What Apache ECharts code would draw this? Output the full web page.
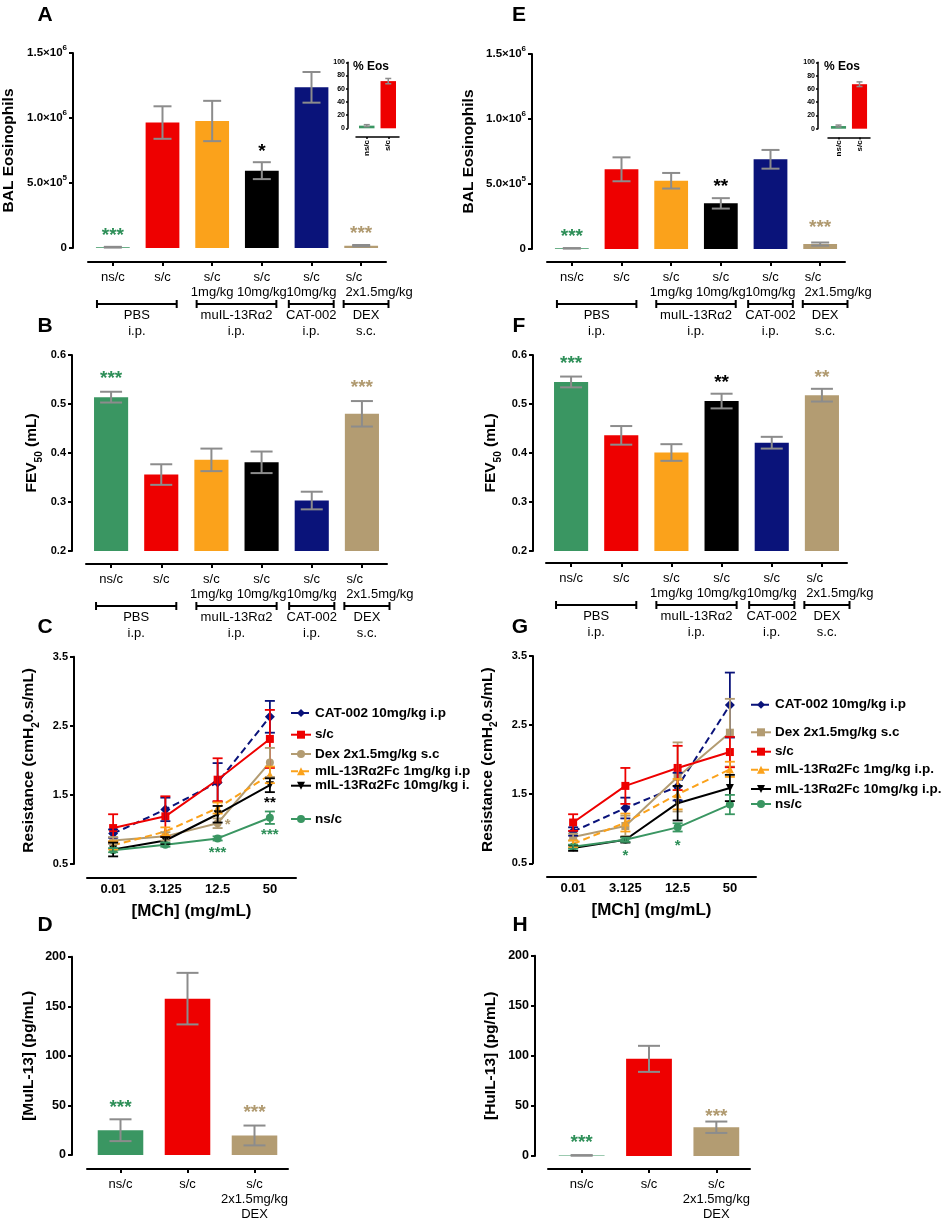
<!DOCTYPE html>
<html lang="en">
<head>
<meta charset="utf-8">
<title>IL-13 panels</title>
<script src="https://cdn.jsdelivr.net/npm/echarts@6/dist/echarts.min.js"></script>
<style>
  html, body { margin: 0; padding: 0; background: #fff; }
  #page { position: relative; width: 941px; height: 1222px; overflow: hidden; }
  .layer { position: absolute; left: 0; top: 0; width: 941px; height: 1222px; }
  #chartC { width: 470px; }
</style>
</head>
<body>
<div id="page">
  <div class="layer" id="chartA"></div>
  <div class="layer" id="chartE"></div>
  <div class="layer" id="chartB"></div>
  <div class="layer" id="chartF"></div>
  <div class="layer" id="chartC"></div>
  <div class="layer" id="chartG"></div>
  <div class="layer" id="chartD"></div>
  <div class="layer" id="chartH"></div>
</div>
<script>
const FONT = '"Liberation Sans", Arial, Helvetica, sans-serif';
const GREEN = '#3a9662', RED = '#ee0000', ORANGE = '#fba21b', BLACK = '#000000', NAVY = '#0a137a', TAN = '#b39c72';
const STAR_GREEN = '#2e8f58', STAR_TAN = '#b09a70';
const ERR_GREY = '#8c8c8c';

// ---- 数据: 分组柱状图 (A, B, E, F) ----
const groupCats = ['ns/c', 's/c', 's/c\n1mg/kg', 's/c\n10mg/kg', 's/c\n10mg/kg', 's/c    \n          2x1.5mg/kg'];
const groupColors = [GREEN, RED, ORANGE, BLACK, NAVY, TAN];
const bracketLabels = ['PBS\ni.p.', 'muIL-13Rα2\ni.p.', 'CAT-002\ni.p.', 'DEX\ns.c.'];
const bracketStart = [-0.3, 1.7, 3.55, 4.65];
const bracketEnd = [1.3, 3.3, 4.45, 5.55];

const eosTicks = [0, 5e5, 1e6, 1.5e6];
const eosTickBase = ['0', '5.0×10', '1.0×10', '1.5×10'];
const eosTickExp = ['', '5', '6', '6'];

const eosA = [0.006e6, 0.965e6, 0.977e6, 0.595e6, 1.236e6, 0.018e6];
const eosASem = [0.003e6, 0.125e6, 0.155e6, 0.065e6, 0.118e6, 0.005e6];
const eosE = [0.005e6, 0.613e6, 0.525e6, 0.351e6, 0.690e6, 0.038e6];
const eosESem = [0.002e6, 0.092e6, 0.060e6, 0.040e6, 0.072e6, 0.012e6];

const insetCats = ['ns/c', 's/c'];
const insetColors = [GREEN, RED];
const insetTicks = [0, 20, 40, 60, 80, 100];
const pctEosA = [4, 71.5];
const pctEosASem = [1.5, 4];
const pctEosE = [4, 67];
const pctEosESem = [1.5, 3.5];

const fevTicks = [0.2, 0.3, 0.4, 0.5, 0.6];
const fevB = [0.514, 0.356, 0.386, 0.381, 0.303, 0.480];
const fevBSem = [0.011, 0.021, 0.023, 0.022, 0.018, 0.026];
const fevF = [0.545, 0.436, 0.401, 0.506, 0.421, 0.518];
const fevFSem = [0.011, 0.019, 0.017, 0.015, 0.012, 0.013];

// ---- 数据: 剂量反应曲线 (C, G) ----
const mchDoses = ['0.01', '3.125', '12.5', '50'];
const resTicks = [0.5, 1.5, 2.5, 3.5];

const cat002C = [0.94, 1.29, 1.68, 2.63];
const cat002CSem = [0.06, 0.17, 0.28, 0.23];
const scC = [1.02, 1.19, 1.72, 2.31];
const scCSem = [0.20, 0.29, 0.31, 0.42];
const dexC = [0.84, 0.90, 1.09, 1.97];
const dexCSem = [0.05, 0.06, 0.07, 0.21];
const il1C = [0.77, 0.97, 1.31, 1.79];
const il1CSem = [0.06, 0.06, 0.08, 0.12];
const il10C = [0.71, 0.84, 1.22, 1.64];
const il10CSem = [0.10, 0.05, 0.12, 0.10];
const nscC = [0.70, 0.78, 0.87, 1.17];
const nscCSem = [0.03, 0.03, 0.03, 0.09];

const cat002G = [0.96, 1.30, 1.61, 2.79];
const cat002GSem = [0.06, 0.15, 0.20, 0.47];
const dexG = [0.88, 1.04, 1.75, 2.39];
const dexGSem = [0.05, 0.15, 0.50, 0.49];
const scG = [1.09, 1.62, 1.88, 2.11];
const scGSem = [0.12, 0.26, 0.32, 0.22];
const il1G = [0.78, 1.09, 1.50, 1.86];
const il1GSem = [0.05, 0.13, 0.22, 0.11];
const il10G = [0.72, 0.84, 1.37, 1.59];
const il10GSem = [0.04, 0.04, 0.25, 0.19];
const nscG = [0.74, 0.84, 1.02, 1.35];
const nscGSem = [0.03, 0.03, 0.06, 0.14];

// ---- 数据: IL-13 浓度 (D, H) ----
const il13Cats = ['ns/c', 's/c', 's/c\n2x1.5mg/kg\nDEX'];
const il13Colors = [GREEN, RED, TAN];
const il13Ticks = [0, 50, 100, 150, 200];
const muIL13 = [25, 157.7, 19.7];
const muIL13Sem = [11, 26, 10];
const huIL13 = [0.6, 97, 28.7];
const huIL13Sem = [0.3, 13, 5.7];

// 显著性星号: [类别, 值位置, 文本, 颜色, 侧]
const starsA = [[0, 0.13e6, '***', STAR_GREEN], [3, 0.777e6, '*', BLACK], [5, 0.146e6, '***', STAR_TAN]];
const starsE = [[0, 0.131e6, '***', STAR_GREEN], [3, 0.515e6, '**', BLACK], [5, 0.20e6, '***', STAR_TAN]];
const starsB = [[0, 0.561, '***', STAR_GREEN], [5, 0.543, '***', STAR_TAN]];
const starsF = [[0, 0.592, '***', STAR_GREEN], [3, 0.553, '**', BLACK], [5, 0.563, '**', STAR_TAN]];
const starsC = [[2, 0.717, '***', STAR_GREEN], [3, 0.98, '***', STAR_GREEN], [3, 1.44, '**', BLACK], [2, 1.12, '*', STAR_TAN, 'right']];
const starsG = [[1, 0.66, '*', STAR_GREEN], [2, 0.81, '*', STAR_GREEN]];
const starsD = [[0, 52.7, '***', STAR_GREEN], [2, 47.7, '***', STAR_TAN]];
const starsH = [[0, 18, '***', STAR_GREEN], [2, 44.3, '***', STAR_TAN]];

// ---- 通用构建函数 ----
const nameRich = {
    a: { fontSize: 15.5, fontWeight: 'bold', fontFamily: FONT, color: '#000', lineHeight: 24 },
    s: { fontSize: 10, fontWeight: 'bold', fontFamily: FONT, color: '#000', lineHeight: 10, verticalAlign: 'bottom' }
};

function valueAxis(o) {
    const lw = o.lw || 2;
    return {
        type: 'value', gridIndex: o.gridIndex || 0, min: o.min, max: o.max, offset: o.offset,
        name: o.name || '', nameLocation: 'middle', nameGap: o.nameGap || 0,
        nameTextStyle: { rich: nameRich },
        axisLine: { show: true, onZero: false, lineStyle: { color: '#000', width: lw } },
        axisTick: { show: true, length: o.tickLen || 4, customValues: o.ticks, lineStyle: { color: '#000', width: lw } },
        axisLabel: {
            customValues: o.ticks, margin: o.margin || 6, formatter: o.fmt, rich: o.rich,
            fontSize: o.fs || 11, fontWeight: 'bold', color: '#000', fontFamily: FONT
        },
        splitLine: { show: false }
    };
}

function catAxis(o) {
    const lw = o.lw || 2;
    return {
        type: 'category', gridIndex: o.gridIndex || 0, data: o.data, offset: o.offset,
        name: o.name || '', nameLocation: 'middle', nameGap: o.nameGap || 0,
        nameTextStyle: { fontSize: 17, fontWeight: 'bold', fontFamily: FONT, color: '#000' },
        axisLine: { show: true, onZero: false, lineStyle: { color: '#000', width: lw } },
        axisTick: { show: o.ticks !== false, alignWithLabel: true, length: o.tickLen || 4, lineStyle: { color: '#000', width: lw } },
        axisLabel: {
            interval: 0, margin: o.margin || 8, rotate: o.rotate || 0,
            fontSize: o.fs || 13, fontWeight: o.fw || 'normal', color: '#000', fontFamily: FONT, lineHeight: o.lh || 15
        },
        splitLine: { show: false }
    };
}

function errorSeries(idx, means, sems, color, capW, lw) {
    return {
        type: 'custom', xAxisIndex: idx, yAxisIndex: idx, silent: true, z: 4,
        data: means.map((m, i) => [i, m, sems[i]]),
        renderItem: function (params, api) {
            const i = api.value(0), m = api.value(1), s = api.value(2);
            const hi = api.coord([i, m + s]);
            const lo = api.coord([i, m - s]);
            const h = capW / 2;
            const st = () => ({ stroke: color, lineWidth: lw });
            return {
                type: 'group', children: [
                    { type: 'line', shape: { x1: hi[0], y1: hi[1], x2: lo[0], y2: lo[1] }, style: st() },
                    { type: 'line', shape: { x1: hi[0] - h, y1: hi[1], x2: hi[0] + h, y2: hi[1] }, style: st() },
                    { type: 'line', shape: { x1: lo[0] - h, y1: lo[1], x2: lo[0] + h, y2: lo[1] }, style: st() }
                ]
            };
        }
    };
}

function starSeries(stars, size) {
    return {
        type: 'custom', silent: true, z: 6,
        data: stars.map(s => [s[0], s[1]]),
        renderItem: function (params, api) {
            const s = stars[params.dataIndex];
            const p = api.coord([api.value(0), api.value(1)]);
            const right = s[4] === 'right';
            return {
                type: 'text', x: right ? p[0] + 7 : p[0], y: p[1] + size * 0.27,
                style: {
                    text: s[2], fill: s[3], fontSize: size, fontWeight: 'bold', fontFamily: FONT,
                    align: right ? 'left' : 'center', verticalAlign: 'middle'
                }
            };
        }
    };
}

function letter(t, x, y) {
    return {
        type: 'text', x: x, y: y, silent: true,
        style: { text: t, fontSize: 21, fontWeight: 'bold', fontFamily: FONT, fill: '#000', align: 'center', verticalAlign: 'middle' }
    };
}

// 分组括号 (PBS / muIL-13Rα2 / CAT-002 / DEX)
function bracketGraphics(grid, xOff, n) {
    const w = grid.width / n;
    const y = grid.top + grid.height + xOff + 42;
    const out = [];
    bracketLabels.forEach((label, i) => {
        const x1 = grid.left + (bracketStart[i] + 0.5) * w;
        const x2 = grid.left + (bracketEnd[i] + 0.5) * w;
        const st = () => ({ stroke: '#000', lineWidth: 2 });
        out.push({ type: 'line', silent: true, shape: { x1: x1, y1: y, x2: x2, y2: y }, style: st() });
        out.push({ type: 'line', silent: true, shape: { x1: x1, y1: y - 4, x2: x1, y2: y + 4 }, style: st() });
        out.push({ type: 'line', silent: true, shape: { x1: x2, y1: y - 4, x2: x2, y2: y + 4 }, style: st() });
        out.push({
            type: 'text', silent: true, x: (x1 + x2) / 2, y: y + 3,
            style: { text: label, fontSize: 13, fontFamily: FONT, fill: '#000', align: 'center', verticalAlign: 'top', lineHeight: 16 }
        });
    });
    return out;
}

function buildBarPanel(domId, p) {
    const chart = echarts.init(document.getElementById(domId));
    const grids = [p.grid];
    const xAxes = [catAxis({ data: p.cats, offset: p.xOff })];
    const yAxes = [valueAxis({
        min: p.min, max: p.max, ticks: p.ticks, offset: p.yOff, fs: p.tickFs,
        fmt: p.fmt, rich: p.rich, name: p.name, nameGap: p.nameGap
    })];
    const series = [
        {
            type: 'bar', xAxisIndex: 0, yAxisIndex: 0, barWidth: '68%', z: 2,
            data: p.vals.map((v, i) => ({ value: v, itemStyle: { color: p.colors[i] } }))
        },
        errorSeries(0, p.vals, p.sems, ERR_GREY, p.capW, 2),
        starSeries(p.stars, p.starSize)
    ];
    const graphic = [letter(p.letter[0], p.letter[1], p.letter[2])];
    if (p.brackets) {
        bracketGraphics(p.grid, p.xOff, p.cats.length).forEach(g => graphic.push(g));
    }
    if (p.inset) {
        const q = p.inset;
        grids.push(q.grid);
        xAxes.push(catAxis({ gridIndex: 1, data: insetCats, offset: q.xOff, fs: 8, fw: 'bold', rotate: 90, margin: 3, tickLen: 2, lw: 1.5, lh: 10 }));
        yAxes.push(valueAxis({ gridIndex: 1, min: 0, max: 100, ticks: insetTicks, offset: q.yOff, fs: 7, tickLen: 2, lw: 1.5, margin: 3 }));
        series.push({
            type: 'bar', xAxisIndex: 1, yAxisIndex: 1, barWidth: '72%', z: 2,
            data: q.vals.map((v, i) => ({ value: v, itemStyle: { color: insetColors[i] } }))
        });
        series.push(errorSeries(1, q.vals, q.sems, ERR_GREY, 6, 1.5));
        graphic.push({
            type: 'text', silent: true, x: q.titleX, y: 67,
            style: { text: '% Eos', fontSize: 12, fontWeight: 'bold', fontFamily: FONT, fill: '#000', align: 'left', verticalAlign: 'middle' }
        });
    }
    chart.setOption({ animation: false, grid: grids, xAxis: xAxes, yAxis: yAxes, series: series, graphic: graphic });
    return chart;
}

function buildLinePanel(domId, p) {
    const chart = echarts.init(document.getElementById(domId));
    const series = [];
    const legends = [];
    p.lines.forEach((l, k) => {
        series.push({
            name: l.name, type: 'line', data: l.vals, z: 3,
            symbol: l.symbol, symbolSize: l.symbol === 'diamond' ? 10 : 8, symbolRotate: l.rotate || 0,
            itemStyle: { color: l.color },
            lineStyle: { color: l.color, width: 2, type: l.dashed ? [7, 4] : 'solid' }
        });
        series.push(errorSeries(0, l.vals, l.sems, l.color, 10, 1.8));
        legends.push({
            data: [l.name], left: p.legendLeft, top: p.legendY[k] - 8, padding: 0,
            itemWidth: 20, itemHeight: 10, itemGap: 0, selectedMode: false,
            textStyle: { fontSize: 13.5, fontWeight: 'bold', fontFamily: FONT, color: '#000', padding: [0, 0, 0, -1] }
        });
    });
    series.push(starSeries(p.stars, 15));
    chart.setOption({
        animation: false,
        grid: [p.grid],
        legend: legends,
        xAxis: [catAxis({
            data: mchDoses, offset: p.xOff, fs: 13, fw: 'bold', ticks: false, margin: 4,
            name: '[MCh] (mg/mL)', nameGap: 25
        })],
        yAxis: [valueAxis({
            min: 0.5, max: 3.5, ticks: resTicks, offset: p.yOff, fs: 11,
            fmt: v => v.toFixed(1), name: '{a|Resistance (cmH}{s|2}{a|0.s/mL)}', nameGap: p.nameGap
        })],
        series: series,
        graphic: [letter(p.letter[0], p.letter[1], p.letter[2])]
    });
    return chart;
}

// ---- 坐标刻度格式 ----
const eosRich = {
    b: { fontSize: 11.5, fontWeight: 'bold', fontFamily: FONT, color: '#000', lineHeight: 18 },
    e: { fontSize: 8, fontWeight: 'bold', fontFamily: FONT, color: '#000', lineHeight: 9, verticalAlign: 'top' }
};
function eosFmt(v) {
    const i = eosTicks.indexOf(v);
    if (i < 0) return '';
    return eosTickExp[i] ? '{b|' + eosTickBase[i] + '}{e|' + eosTickExp[i] + '}' : '{b|' + eosTickBase[i] + '}';
}

const charts = [];

// A
charts.push(buildBarPanel('chartA', {
    grid: { left: 87, top: 53, width: 299, height: 195 }, yOff: 15, xOff: 14,
    cats: groupCats, colors: groupColors, vals: eosA, sems: eosASem,
    min: 0, max: 1.5e6, ticks: eosTicks, fmt: eosFmt, rich: eosRich,
    name: '{a|BAL Eosinophils}', nameGap: 52, capW: 18, stars: starsA, starSize: 19,
    letter: ['A', 45, 15], brackets: true,
    inset: { grid: { left: 356, top: 62.3, width: 43, height: 66 }, yOff: 8, xOff: 8.7, vals: pctEosA, sems: pctEosASem, titleX: 353 }
}));

// E
charts.push(buildBarPanel('chartE', {
    grid: { left: 547, top: 54, width: 298, height: 195 }, yOff: 15, xOff: 13,
    cats: groupCats, colors: groupColors, vals: eosE, sems: eosESem,
    min: 0, max: 1.5e6, ticks: eosTicks, fmt: eosFmt, rich: eosRich,
    name: '{a|BAL Eosinophils}', nameGap: 51, capW: 18, stars: starsE, starSize: 19,
    letter: ['E', 519, 15], brackets: true,
    inset: { grid: { left: 828, top: 62.3, width: 42, height: 66.4 }, yOff: 10, xOff: 8.7, vals: pctEosE, sems: pctEosESem, titleX: 824 }
}));

// B
charts.push(buildBarPanel('chartB', {
    grid: { left: 86, top: 355, width: 301, height: 196 }, yOff: 14, xOff: 13,
    cats: groupCats, colors: groupColors, vals: fevB, sems: fevBSem,
    min: 0.2, max: 0.6, ticks: fevTicks, fmt: v => v.toFixed(1), tickFs: 11,
    name: '{a|FEV}{s|50}{a| (mL)}', nameGap: 28, capW: 22, stars: starsB, starSize: 19,
    letter: ['B', 45, 326], brackets: true
}));

// F
charts.push(buildBarPanel('chartF', {
    grid: { left: 546, top: 355, width: 301, height: 196 }, yOff: 13, xOff: 12,
    cats: groupCats, colors: groupColors, vals: fevF, sems: fevFSem,
    min: 0.2, max: 0.6, ticks: fevTicks, fmt: v => v.toFixed(1), tickFs: 11,
    name: '{a|FEV}{s|50}{a| (mL)}', nameGap: 30, capW: 22, stars: starsF, starSize: 19,
    letter: ['F', 519, 326], brackets: true
}));

// C
charts.push(buildLinePanel('chartC', {
    grid: { left: 87, top: 656.7, width: 209, height: 207.3 }, yOff: 13, xOff: 13.7, nameGap: 33,
    legendLeft: 290, legendY: [714, 735.7, 755, 772.3, 786.7, 820],
    lines: [
        { name: 'CAT-002 10mg/kg i.p', vals: cat002C, sems: cat002CSem, color: NAVY, symbol: 'diamond', dashed: true },
        { name: 's/c', vals: scC, sems: scCSem, color: RED, symbol: 'rect' },
        { name: 'Dex 2x1.5mg/kg s.c', vals: dexC, sems: dexCSem, color: TAN, symbol: 'circle' },
        { name: 'mIL-13Rα2Fc 1mg/kg i.p.', vals: il1C, sems: il1CSem, color: ORANGE, symbol: 'triangle', dashed: true },
        { name: 'mIL-13Rα2Fc 10mg/kg i.p.', vals: il10C, sems: il10CSem, color: BLACK, symbol: 'triangle', rotate: 180 },
        { name: 'ns/c', vals: nscC, sems: nscCSem, color: GREEN, symbol: 'circle' }
    ],
    stars: starsC, letter: ['C', 45, 627]
}));

// G
charts.push(buildLinePanel('chartG', {
    grid: { left: 547, top: 656, width: 209, height: 207.3 }, yOff: 14, xOff: 13.4, nameGap: 33.5,
    legendLeft: 750, legendY: [705.7, 733.3, 752.7, 770.7, 790, 805],
    lines: [
        { name: 'CAT-002 10mg/kg i.p', vals: cat002G, sems: cat002GSem, color: NAVY, symbol: 'diamond', dashed: true },
        { name: 'Dex 2x1.5mg/kg s.c', vals: dexG, sems: dexGSem, color: TAN, symbol: 'rect' },
        { name: 's/c', vals: scG, sems: scGSem, color: RED, symbol: 'rect' },
        { name: 'mIL-13Rα2Fc 1mg/kg i.p.', vals: il1G, sems: il1GSem, color: ORANGE, symbol: 'triangle', dashed: true },
        { name: 'mIL-13Rα2Fc 10mg/kg i.p.', vals: il10G, sems: il10GSem, color: BLACK, symbol: 'triangle', rotate: 180 },
        { name: 'ns/c', vals: nscG, sems: nscGSem, color: GREEN, symbol: 'circle' }
    ],
    stars: starsG, letter: ['G', 520, 627]
}));

// D
charts.push(buildBarPanel('chartD', {
    grid: { left: 87, top: 956.7, width: 201, height: 200 }, yOff: 15, xOff: 14,
    cats: il13Cats, colors: il13Colors, vals: muIL13, sems: muIL13Sem,
    min: 0, max: 200, ticks: il13Ticks, fmt: v => String(v), tickFs: 12.5,
    name: '{a|[MuIL-13] (pg/mL)}', nameGap: 31, capW: 22, stars: starsD, starSize: 19,
    letter: ['D', 45, 925]
}));

// H
charts.push(buildBarPanel('chartH', {
    grid: { left: 548, top: 955.7, width: 202, height: 200.3 }, yOff: 13, xOff: 13,
    cats: il13Cats, colors: il13Colors, vals: huIL13, sems: huIL13Sem,
    min: 0, max: 200, ticks: il13Ticks, fmt: v => String(v), tickFs: 12.5,
    name: '{a|[HuIL-13] (pg/mL)}', nameGap: 32, capW: 22, stars: starsH, starSize: 19,
    letter: ['H', 520, 925]
}));

window.addEventListener('resize', function () {
    charts.forEach(c => c.resize());
});
</script>
</body>
</html>
